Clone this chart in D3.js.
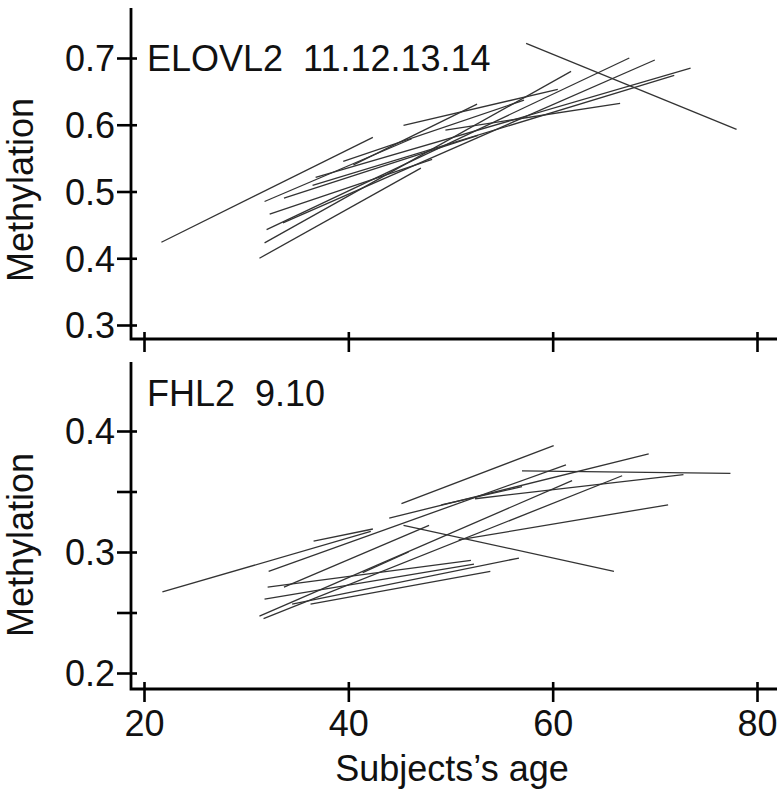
<!DOCTYPE html>
<html>
<head>
<meta charset="utf-8">
<script src="https://cdn.jsdelivr.net/npm/d3@7"></script>
<style>
  html, body { margin: 0; padding: 0; background: #fff; }
  svg { display: block; }
  text { font-family: "Liberation Sans", Arial, sans-serif; fill: #111; }
</style>
</head>
<body>
<svg id="chart" width="784" height="803"></svg>
<script>
// ---------- data ----------
const xTicks = [20, 40, 60, 80];
const topYTicks = [0.3, 0.4, 0.5, 0.6, 0.7];
const botYTicks = [0.2, 0.25, 0.3, 0.35, 0.4];
const botYLabels = [0.2, 0.3, 0.4];
const topTitle = "ELOVL2\u00a0\u00a011.12.13.14";
const botTitle = "FHL2\u00a0\u00a09.10";
const xLabel = "Subjects\u2019s age";
const yLabel = "Methylation";

// each segment: [startAge, startValue, endAge, endValue]
const elovl2Segments = [
  [21.7, 0.424, 42.4, 0.581],
  [57.4, 0.722, 78.0, 0.593],
  [31.3, 0.400, 47.1, 0.535],
  [31.8, 0.423, 61.8, 0.680],
  [32.0, 0.443, 67.5, 0.700],
  [32.3, 0.466, 48.2, 0.548],
  [31.8, 0.485, 46.2, 0.579],
  [33.7, 0.490, 52.7, 0.584],
  [33.6, 0.453, 70.0, 0.697],
  [36.8, 0.521, 73.5, 0.685],
  [36.5, 0.509, 71.9, 0.674],
  [45.4, 0.599, 60.5, 0.653],
  [49.5, 0.592, 66.6, 0.632],
  [40.5, 0.540, 52.6, 0.631],
  [39.5, 0.545, 57.2, 0.637]
];

const fhl2Segments = [
  [21.8, 0.267, 42.2, 0.317],
  [36.6, 0.309, 42.4, 0.319],
  [32.2, 0.284, 61.3, 0.372],
  [45.2, 0.340, 60.1, 0.388],
  [57.0, 0.367, 77.4, 0.365],
  [45.4, 0.322, 66.0, 0.284],
  [50.8, 0.310, 71.3, 0.339],
  [31.3, 0.247, 61.9, 0.359],
  [31.7, 0.245, 66.8, 0.363],
  [33.7, 0.271, 47.9, 0.322],
  [31.8, 0.261, 52.3, 0.290],
  [32.1, 0.271, 52.0, 0.293],
  [36.3, 0.257, 53.9, 0.284],
  [34.5, 0.257, 56.7, 0.295],
  [41.4, 0.283, 45.9, 0.300],
  [49.1, 0.339, 57.0, 0.354],
  [44.0, 0.328, 69.4, 0.381],
  [52.4, 0.344, 72.8, 0.364]
];

// ---------- layout ----------
const svg = d3.select("#chart");
const axisX0 = 131, axisX1 = 777;
const x = d3.scaleLinear().domain([20, 80]).range([144, 757]);

const panels = [
  { segs: elovl2Segments, yTicks: topYTicks, yLabels: topYTicks, fmt: d3.format(".1f"),
    y: d3.scaleLinear().domain([0.3, 0.7]).range([325, 58]),
    top: 8, axisY: 339, title: topTitle, titleY: 71, yLabelY: 190, showX: false },
  { segs: fhl2Segments, yTicks: botYTicks, yLabels: botYLabels, fmt: d3.format(".1f"),
    y: d3.scaleLinear().domain([0.2, 0.4]).range([673, 431]),
    top: 362, axisY: 689, title: botTitle, titleY: 406, yLabelY: 545, showX: true }
];

panels.forEach(p => {
  const g = svg.append("g");

  // data segments
  g.append("g").selectAll("line").data(p.segs).join("line")
    .attr("x1", d => x(d[0])).attr("y1", d => p.y(d[1]))
    .attr("x2", d => x(d[2])).attr("y2", d => p.y(d[3]))
    .attr("stroke", "#333").attr("stroke-width", 1.3);

  // y axis
  const yAxis = d3.axisLeft(p.y).tickValues(p.yTicks).tickSize(0).tickPadding(0)
    .tickFormat(d => p.yLabels.some(v => Math.abs(v - d) < 1e-9) ? p.fmt(d) : "");
  const ya = g.append("g").attr("transform", `translate(${axisX0},0)`).call(yAxis);
  ya.select(".domain").remove();
  ya.selectAll(".tick line").attr("x1", -14).attr("x2", 6)
    .attr("stroke", "#000").attr("stroke-width", 2.6);
  ya.selectAll(".tick text").attr("x", -16).attr("dy", "0.36em")
    .style("font-size", "36px").style("font-family", "'Liberation Sans', Arial, sans-serif")
    .attr("fill", "#111");

  // x axis
  const xAxis = d3.axisBottom(x).tickValues(xTicks).tickSize(0).tickPadding(0)
    .tickFormat(p.showX ? d3.format("d") : () => "");
  const xa = g.append("g").attr("transform", `translate(0,${p.axisY})`).call(xAxis);
  xa.select(".domain").remove();
  xa.selectAll(".tick line").attr("y1", -7).attr("y2", 13)
    .attr("stroke", "#000").attr("stroke-width", 2.6);
  xa.selectAll(".tick text").attr("y", 47).attr("dy", 0)
    .style("font-size", "36px").style("font-family", "'Liberation Sans', Arial, sans-serif")
    .attr("fill", "#111");

  // axis frame (L shape)
  g.append("path")
    .attr("d", `M${axisX0},${p.top}V${p.axisY}H${axisX1}`)
    .attr("fill", "none").attr("stroke", "#000").attr("stroke-width", 2.8);

  // panel title
  g.append("text").attr("x", 147).attr("y", p.titleY)
    .style("font-size", "36px").text(p.title);

  // y label
  g.append("text")
    .attr("transform", `translate(33,${p.yLabelY}) rotate(-90)`)
    .attr("text-anchor", "middle").style("font-size", "36px").text(yLabel);
});

// x label
svg.append("text").attr("x", 452).attr("y", 781).attr("text-anchor", "middle")
  .style("font-size", "36px").text(xLabel);
</script>
</body>
</html>
